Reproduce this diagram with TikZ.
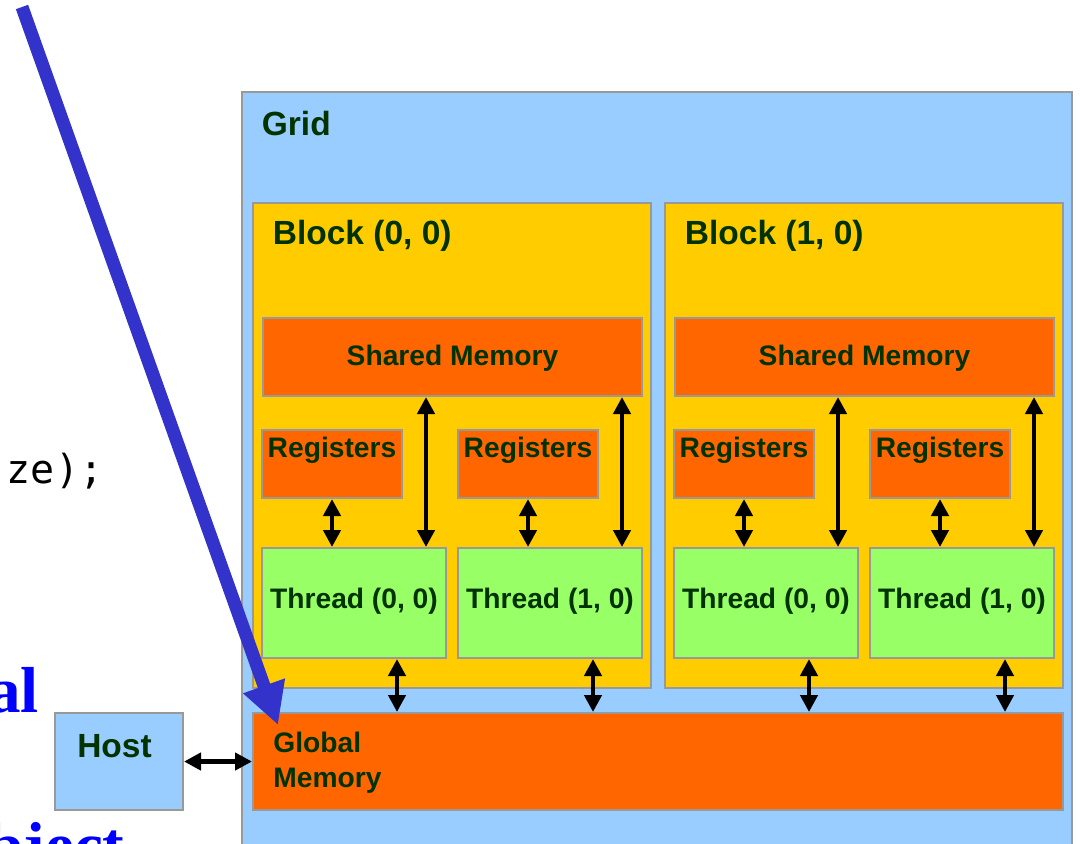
\documentclass[tikz,border=0pt]{standalone}
\usepackage{fontspec}
\setmainfont{Liberation Sans}
\newfontfamily\serifbold{Liberation Serif}
\newfontfamily\codefont{DejaVu Sans Mono}
\usetikzlibrary{arrows.meta,fit}

\definecolor{gridblue}{HTML}{99CCFF}
\definecolor{blockgold}{HTML}{FFCC00}
\definecolor{memorange}{HTML}{FF6600}
\definecolor{threadgreen}{HTML}{99FF66}
\definecolor{edgegray}{HTML}{999999}
\definecolor{labelgreen}{HTML}{003300}
\definecolor{pointerblue}{HTML}{3333CC}

\tikzset{
  area/.style={rectangle, draw=edgegray, line width=1pt, inner sep=0pt},
  gridbox/.style={area, fill=gridblue},
  blockbox/.style={area, fill=blockgold},
  membox/.style={area, fill=memorange},
  threadbox/.style={area, fill=threadgreen},
  biglabel/.style={text=labelgreen, inner sep=0pt, font=\fontsize{16.75}{20}\selectfont\bfseries},
  smalllabel/.style={text=labelgreen, inner sep=0pt, font=\fontsize{14.1}{17}\selectfont\bfseries},
  sidetext/.style={text=blue, inner sep=0pt, font=\fontsize{32.5}{38}\serifbold\bfseries},
  codetext/.style={text=black, inner sep=0pt, font=\fontsize{20}{24}\codefont},
  link/.style={line width=2.3pt, {Triangle[length=8.5pt,width=8.5pt]}-{Triangle[length=8.5pt,width=8.5pt]}},
  pointer/.style={draw=pointerblue, line width=6.5pt, -{Triangle[length=20.8pt,width=20.7pt]}}
}

\begin{document}
\begin{tikzpicture}[x=0.5pt, y=-0.5pt]
\useasboundingbox (0,0) rectangle (1080,843);
\clip (0,0) rectangle (1080,843);

% surrounding slide text
\node[codetext, anchor=base west] (code) at (6.5,483) {ze);};
\node[sidetext, anchor=base east] (wordA) at (39,712) {al};
\node[sidetext, anchor=base east] (wordB) at (125,867) {bject};

% grid and its blocks
\node[gridbox, fit={(242,92) (1072,880)}] (grid) {};
\node[biglabel, anchor=base west] (gridlbl) at (261.5,135) {Grid};

\foreach \b/\dx in {0/0, 1/412} {
  \node[blockbox, fit={(253+\dx,203) (651+\dx,688)}] (blk\b) {};
  \node[biglabel, anchor=base west] (blklbl\b) at (272.5+\dx,244) {Block (\b, 0)};
  \node[membox, fit={(263+\dx,318) (642+\dx,396)}] (sm\b) {};
  \node[smalllabel, anchor=base] (smlbl\b) at (452.5+\dx,365) {Shared Memory};
  \foreach \t/\tx in {0/0, 1/196} {
    \node[membox, fit={(262+\dx+\tx,430) (402+\dx+\tx,498)}] (reg\b\t) {};
    \node[smalllabel, anchor=base] (reglbl\b\t) at (332+\dx+\tx,457) {Registers};
    \node[threadbox, fit={(262+\dx+\tx,548) (446+\dx+\tx,658)}] (th\b\t) {};
    \node[smalllabel, anchor=base] (thlbl\b\t) at (354+\dx+\tx,608) {Thread (\t, 0)};
  }
}

% global memory and host
\node[membox, fit={(253,713) (1063,810)}] (gm) {};
\node[smalllabel, anchor=base west] (gmlbl1) at (273,752) {Global};
\node[smalllabel, anchor=base west] (gmlbl2) at (273,787) {Memory};
\node[gridbox, fit={(55,713) (183,810)}] (host) {};
\node[biglabel, anchor=base] (hostlbl) at (114.5,757) {Host};

% memory access paths
\foreach \b in {0,1} {
  \foreach \t in {0,1} {
    \draw[link] (reg\b\t.south) -- (reg\b\t.south |- th\b\t.north);
    \coordinate (sa\b\t) at ([xshift=-10.5pt]th\b\t.north east);
    \draw[link] (sa\b\t) -- (sa\b\t |- sm\b.south);
    \coordinate (ga\b\t) at ([xshift=21.5pt]th\b\t.south);
    \draw[link] (ga\b\t) -- (ga\b\t |- gm.north);
  }
}
\draw[link] (host.east) -- (gm.west);

% pointer into global memory
\coordinate (ptrtail) at (22,7);
\coordinate (ptrtip) at (278,725);
\draw[pointer] (ptrtail) -- (ptrtip);
\end{tikzpicture}
\end{document}
